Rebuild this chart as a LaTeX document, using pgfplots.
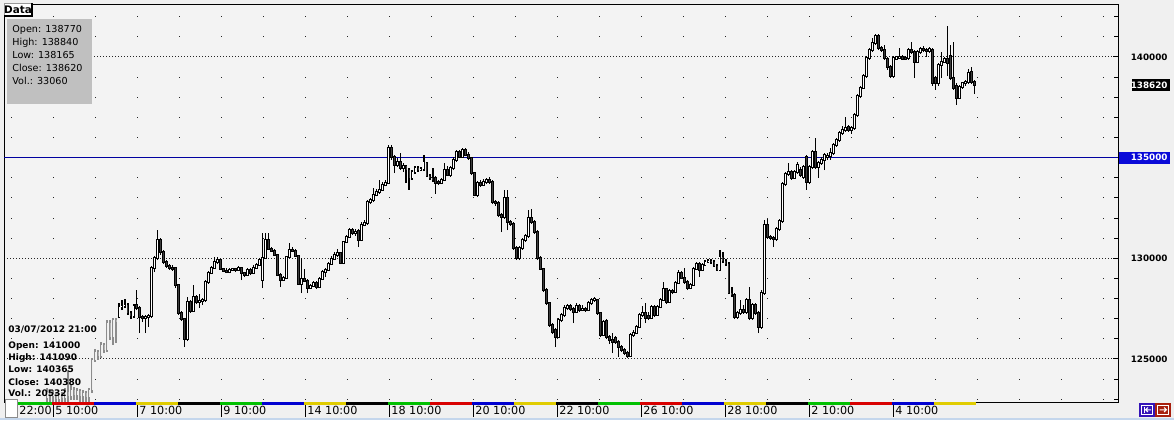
\documentclass[border=0pt]{standalone}
\usepackage{fontspec}
\setmainfont{DejaVu Sans}
\usepackage{pgfplots}
\pgfplotsset{compat=1.18}
\usepackage{pgfplotstable}

\definecolor{bgc}{HTML}{F0F0F0}
\definecolor{plotc}{HTML}{F3F3F3}
\definecolor{gbox}{HTML}{C0C0C0}
\definecolor{lineblue}{HTML}{0000A0}
\definecolor{boxblue}{HTML}{0A0AD8}
\definecolor{downc}{HTML}{3C3C3C}
\definecolor{ghostc}{HTML}{8C8C8C}
\definecolor{ghostup}{HTML}{EEEEEE}
\definecolor{ghostdn}{HTML}{B4B4B4}
\definecolor{dg}{HTML}{00C000}
\definecolor{dr}{HTML}{D80000}
\definecolor{db}{HTML}{0000D0}
\definecolor{dy}{HTML}{E0CC00}
\definecolor{dk}{HTML}{000000}
\definecolor{lbl}{HTML}{C4D6EC}
\definecolor{btnb}{HTML}{3414B8}
\definecolor{btnr}{HTML}{A8200E}

\newcommand\lab{\fontsize{5.6}{6.5}\selectfont}
\newcommand\blab{\fontsize{4.4}{5}\selectfont\bfseries}
\newcommand\ibox{\fontsize{4.8}{5.5}\selectfont}
\newcommand\ibold{\fontsize{4.5}{5.5}\selectfont\bfseries}
\newcommand\tabf{\fontsize{5.2}{6}\selectfont\bfseries}

% open high low close, one row per bar
\pgfplotstableread{
o h l c
127085 127780 127035 127580
127580 127930 127430 127630
127630 127980 127530 127680
127680 127780 127185 127285
127285 127380 126985 127135
127135 127730 127035 127630
127680 128425 127430 127530
127530 127630 126290 127085
127085 127185 126835 127035
127035 127185 126290 127085
127085 127235 126590 127135
127135 129620 127035 129520
129520 130115 129320 130015
130015 131405 129915 130910
130910 131010 130165 130315
130315 130415 129715 129815
129815 129915 129520 129620
129620 129715 129420 129520
129520 129670 129370 129470
129520 129570 128525 128675
128675 128725 127185 127285
127285 127380 126885 126985
126985 127035 125595 125990
125990 128080 125890 127830
127830 127930 127285 127380
127380 128675 127335 128080
128080 128180 127730 127830
127830 128225 127530 127880
127880 128030 127680 127930
127930 128920 127830 128825
128825 129370 128725 129270
129270 129620 129220 129520
129520 130065 129470 129815
129815 130065 129715 129915
129915 129965 129420 129470
129470 129520 129320 129370
129370 129520 129270 129320
129320 129520 129270 129420
129420 129520 129370 129470
129470 129520 129320 129420
129420 129620 129370 129520
129520 129570 128920 129270
129270 129320 129070 129170
129170 129520 129120 129420
129420 129520 129170 129270
129270 129670 129220 129520
129520 129765 129470 129670
129670 130015 129620 129915
128920 131255 128525 130015
130015 131255 129965 130910
130910 131255 130415 130465
130465 130560 130315 130365
130365 130465 130115 130165
130165 130215 129120 129170
129170 129270 128575 128920
128920 129120 128870 129020
129020 130115 128970 130065
130065 130760 130015 130415
130415 130560 130315 130365
130365 130465 130065 130115
130115 130165 128675 128725
128725 130015 128275 128970
128970 129470 128825 128870
128870 128970 128275 128525
128525 128725 128475 128625
128625 128870 128575 128775
128775 128870 128475 128575
128575 129070 128525 128970
128970 129420 128920 129320
129320 129520 129070 129420
129420 129815 129370 129715
129715 130115 129670 129965
129965 130315 129915 130165
130165 130465 130065 130265
130265 130315 129715 129765
129765 130860 129715 130810
130810 131160 130760 131060
131060 131505 131010 131405
131405 131505 131160 131255
131255 131455 131110 131305
131355 131455 130560 130910
130910 131805 130860 131655
131655 131905 131605 131755
131755 132895 131655 132795
132795 132995 132695 132895
132895 133490 132795 133145
133145 133445 133095 133295
133295 133890 133195 133395
133395 133790 133345 133640
133640 133890 133590 133740
133740 135630 133690 135480
135480 135630 134885 135030
135030 135130 134235 134635
134635 134985 134535 134785
134785 135230 134385 134485
134485 134735 134285 134585
134585 134635 133740 134385
134385 134485 133395 133990
133990 134385 133890 134285
134285 134585 134185 134485
134485 134585 134285 134385
134385 134535 134335 134435
134435 135130 134335 134785
134735 134785 134040 134090
134090 134185 133890 133990
133990 134485 133790 133890
133990 134090 133195 133740
133790 133890 133640 133740
133740 133990 133690 133890
133890 134735 133840 134385
134385 134585 134090 134135
134135 134585 134040 134485
134485 135030 134385 134885
134885 135380 134785 135280
135280 135380 134985 135030
135030 135480 134985 135380
135380 135480 135080 135130
135130 135280 134885 134985
134985 135030 134135 134235
134235 134285 133095 133145
133145 133840 133045 133740
133740 133890 133540 133640
133640 133940 133590 133790
133790 133990 133690 133890
133890 134040 133690 133790
133790 133890 132695 132795
132795 132895 132600 132745
132745 132845 132050 132150
132150 132250 131305 132050
132050 133395 131955 132995
132995 133395 131405 131805
131805 131905 131605 131705
131705 131805 130415 130510
130510 130610 129915 130015
130015 130610 129915 130510
130510 131010 130415 130910
130910 131210 130810 131110
131110 132400 131010 132000
132000 132450 131705 131805
131805 131905 131210 131305
131305 131405 129915 130015
130015 130115 129420 129470
129470 129520 128325 128425
128425 128525 127680 127780
127780 127830 126590 126690
126690 126785 126240 126340
126440 126540 125595 126090
126090 127035 126040 126935
126935 127285 126835 127185
127185 127680 127085 127530
127530 127730 127430 127630
127630 127730 127380 127480
127480 127580 126785 127335
127335 127780 127285 127630
127630 127730 127335 127430
127430 127680 127380 127480
127480 127580 127335 127430
127430 127880 127380 127780
127780 128030 127680 127930
127930 128080 127830 127980
127930 127980 127185 127285
127285 127335 126090 126190
126190 126935 126140 126835
126885 126985 125990 126090
126090 126190 125745 125940
125940 126290 125295 125845
126040 126140 125745 125845
125845 125940 125100 125595
125595 125695 125345 125445
125445 125545 125200 125295
125295 125395 125050 125150
125150 126290 125100 126190
126190 126440 126090 126290
126290 126690 126240 126590
126590 127285 126540 127185
127185 127630 127085 127285
127285 127780 126785 127035
127135 127335 126935 127035
127035 127680 126985 127580
127580 127680 127085 127185
127185 127680 127135 127580
127580 128030 127530 127930
127930 128825 127880 128475
128475 128525 127730 127830
127830 128475 127780 128375
128375 128475 128225 128325
128325 128870 128275 128775
128775 129420 128725 129270
129270 129370 128970 129020
129020 129520 128725 128825
128825 128920 128425 128525
128525 128775 128475 128675
128675 129570 128625 129470
129470 129815 129420 129715
129715 129815 129070 129420
129420 129765 129370 129670
129670 129915 129620 129815
129815 129965 129765 129865
129865 129965 129715 129815
129815 129915 129570 129620
129620 129715 129370 129420
129420 130415 129370 130065
130065 130315 129765 129865
129865 129965 129620 129715
129715 129815 128225 128275
128275 128575 128080 128180
128180 128275 126985 127085
127085 127380 126985 127285
127285 127930 127185 127430
127430 127680 127235 127335
127335 128030 127235 127930
127930 128575 126935 127035
127035 127780 126935 127680
127680 127780 127185 127285
127285 127380 126290 126590
126590 128425 126490 128275
128275 131905 128180 131655
131655 131955 130960 131060
131060 131160 130910 131010
131010 131110 130560 130960
130960 131555 130860 131455
131455 131955 131355 131855
131855 133790 131755 133690
133690 134285 133590 134185
134185 134735 134090 134285
134285 134385 133890 133990
133990 134385 133940 134285
134285 134785 134185 134635
134385 134535 134040 134135
134040 134635 133940 134535
135030 135130 133395 133790
133790 134635 133690 134535
134535 135380 134435 135280
135280 135975 134435 134535
134535 134835 133990 134735
134735 135030 134635 134885
134885 135230 134385 135130
135030 135230 134885 135080
135080 135480 134885 135230
135230 135730 135130 135630
135630 135975 135530 135875
135875 136325 135775 136225
136225 136570 136125 136375
136375 137020 136275 136470
136520 136620 136275 136375
136375 136570 136175 136470
136470 137215 136375 137120
137120 138160 137020 138060
138060 138560 137960 138460
138460 139155 138410 139055
139055 140050 138955 139950
139950 140445 139850 140345
140345 140945 140245 140695
140695 141140 140595 141040
141040 141140 140345 140445
140445 140545 140245 140345
140345 140595 139850 139950
139900 140000 139355 139500
139500 139600 138955 139055
139055 140050 138955 139950
139900 140050 139850 140000
139950 140445 139900 140000
140000 140100 139850 139900
139950 140050 139850 139900
139950 140445 139850 140345
140345 140745 140145 140245
140245 140345 138955 139750
139750 140345 139700 140245
140245 140495 140145 140395
140395 140545 140245 140345
140345 140445 140000 140295
140295 140495 140195 140395
140345 140445 138560 138705
138955 139055 138360 138705
138705 139700 138560 139600
139600 140245 138955 139750
139750 140000 139700 139900
139900 141540 139055 139700
140050 140595 138855 138955
138955 140745 138360 138460
138560 138705 137615 137960
137960 138610 137910 138510
138510 138755 138410 138705
138705 138855 138560 138755
138755 139405 138655 139205
139255 139500 138655 138755
138770 138840 138165 138620
}\candles

% grey bars at the left edge
\pgfplotstableread{
o h l c
123060 123560 122865 123360
123360 123460 122865 123160
123160 123460 122865 123260
123260 123360 122865 123010
123010 123310 122865 123210
123210 123360 122865 123060
123060 123560 122865 123360
123360 124450 122865 123160
123160 123705 122960 123460
123460 123610 122960 123210
123210 123560 122960 123410
123410 123510 122865 123160
123160 123460 122865 123310
123310 123410 122865 123110
123110 123560 122865 123460
123460 125050 123310 124950
124950 125495 124850 125345
125345 125445 124950 125150
125150 125845 125050 125695
125695 125795 125295 125445
125445 126935 125345 126785
126785 126935 125940 126090
126090 127035 125695 126935
126935 127035 125795 126835
}\ghost

\def\pad{47}
\pgfplotsset{
  bar/.style={mark=none, forget plot},
  wick/.style={bar, line width=0.55pt, quiver={u=0, v=\thisrow{h}-\thisrow{l}}},
  body/.style={bar, line width=1.45pt, quiver={u=0, v=abs(\thisrow{c}-\thisrow{o})+2*\pad}},
  upin/.style={bar, line width=0.5pt, quiver={u=0, v=\thisrow{c}-\thisrow{o}}},
  dnin/.style={bar, line width=0.5pt, quiver={u=0, v=\thisrow{o}-\thisrow{c}}},
}

\begin{document}
\begin{tikzpicture}
\begin{scope}[x=0.5pt,y=-0.5pt,shift={(-2pt,201pt)}]
  \fill[bgc] (0,0) rectangle (1174,420);
  \fill[plotc] (4,4) rectangle (1118,402);
\end{scope}

\begin{axis}[
  at={(0pt,0pt)}, anchor=south west,
  scale only axis, width=557pt, height=199pt,
  xmin=4, xmax=1118, ymin=122863, ymax=142631,
  axis line style={black, line width=0.5pt},
  xtick={17,53,137,221,305,389,473,557,641,725,809,893},
  xticklabels={22:00,5 10:00,7 10:00,9 10:00,14 10:00,18 10:00,20 10:00,22 10:00,26 10:00,28 10:00,2 10:00,4 10:00},
  xtick pos=left, xticklabel pos=left,
  xtick style={draw=none},
  xticklabel style={font=\lab, anchor=west, inner sep=0pt, xshift=1pt, yshift=-4pt},
  ytick={125000,130000,140000},
  yticklabels={125000,130000,140000},
  minor ytick={123000,124000,126000,127000,128000,129000,131000,132000,133000,134000,135000,136000,137000,138000,139000,141000,142000},
  ytick pos=right, yticklabel pos=right,
  tick align=inside,
  major tick length=2.5pt, minor tick length=2pt,
  ytick style={black, line width=0.5pt},
  minor tick style={black, line width=0.5pt},
  yticklabel style={font=\blab, anchor=east, inner sep=0pt, xshift=25pt},
  ymajorgrids, yminorgrids,
  major grid style={draw=black!85, line width=0.5pt, dash pattern=on 0.5pt off 1pt},
  minor grid style={draw=black!85, line width=0.5pt, dash pattern=on 0.5pt off 20.5pt, dash phase=17.5pt},
]
  % level line
  \addplot[lineblue, line width=0.5pt, forget plot] coordinates {(4,135000) (1118,135000)};

  % grey bars
  \addplot[wick, ghostc] table[x expr={47+3*\coordindex}, y=l] {\ghost};
  \addplot[body, ghostc] table[x expr={47+3*\coordindex}, y expr={min(\thisrow{o},\thisrow{c})-\pad}] {\ghost};
  \addplot[upin, ghostup] table[x expr={47+3*\coordindex}, y expr={\thisrow{c}>\thisrow{o} ? \thisrow{o} : nan}] {\ghost};
  \addplot[dnin, ghostdn] table[x expr={47+3*\coordindex}, y expr={\thisrow{c}<\thisrow{o} ? \thisrow{c} : nan}] {\ghost};

  % main bars
  \addplot[wick, black] table[x expr={119+2.99*\coordindex}, y=l] {\candles};
  \addplot[body, black] table[x expr={119+2.99*\coordindex}, y expr={min(\thisrow{o},\thisrow{c})-\pad}] {\candles};
  \addplot[upin, white] table[x expr={119+2.99*\coordindex}, y expr={\thisrow{c}>\thisrow{o} ? \thisrow{o} : nan}] {\candles};
  \addplot[dnin, downc] table[x expr={119+2.99*\coordindex}, y expr={\thisrow{c}<\thisrow{o} ? \thisrow{c} : nan}] {\candles};
\end{axis}

\begin{scope}[x=0.5pt,y=-0.5pt,shift={(-2pt,201pt)}]
  % day bars under the plot
  \foreach \a/\b/\cc in {18/52/dg,52/94/dr,94/136/db,136/178/dy,178/220/dk,220/262/dg,262/304/db,304/346/dy,346/388/dk,388/430/dg,430/472/dr,472/514/db,514/556/dy,556/598/dk,598/640/dg,640/682/dr,682/724/db,724/766/dy,766/808/dk,808/850/dg,850/892/dr,892/934/db,934/976/dy}
    \fill[\cc] (\a,401.5) rectangle (\b,404.5);
  \foreach \x in {53,137,221,305,389,473,557,641,725,809,893}
    \draw[black, line width=0.5pt] (\x,404.5) -- (\x,417);
  \filldraw[fill=white, draw=black!45, line width=0.5pt] (5,399) rectangle (17,417);
  \fill[lbl] (0,418) rectangle (1174,420);

  % info box
  \fill[gbox] (7,19) rectangle (92,104);
  \foreach \t/\yy in {Open: 138770/29.3, High: 138840/42.5, Low: 138165/55.5, Close: 138620/68.3, Vol.: 33060/81}
    \node[anchor=base west, inner sep=0pt, font=\ibox] at (12,\yy+3.4) {\t};

  % tab
  \fill[white] (4,3) rectangle (32,15);
  \draw[black!40, line width=0.5pt] (4.5,15) -- (4.5,3.5) -- (32,3.5);
  \draw[black, line width=1pt] (32,3) -- (32,15.5) -- (4,15.5);
  \node[inner sep=0pt, font=\tabf] at (18,9.5) {Data};

  % bar details
  \node[anchor=base west, inner sep=0pt, font=\ibold] at (8,329+3.3) {03/07/2012 21:00};
  \foreach \t/\yy in {Open: 141000/345, High: 141090/357.3, Low: 140365/369.5, Close: 140380/381.7, Vol.: 20532/393.5}
    \node[anchor=base west, inner sep=0pt, font=\ibold] at (8,\yy+3.3) {\t};

  % price tags
  \fill[black] (1132,79) rectangle (1170,90.5);
  \node[anchor=east, inner sep=0pt, text=white, font=\blab] at (1168,84.8) {138620};
  \fill[boxblue] (1119,152) rectangle (1170,163.5);
  \node[anchor=east, inner sep=0pt, text=white, font=\blab] at (1168,157.7) {135000};

  % scroll buttons
  \fill[btnb] (1139,402.5) rectangle (1155,417);
  \fill[btnr] (1155,402.5) rectangle (1171,417);
  \draw[white, line width=0.5pt] (1141.5,405) rectangle (1152.5,414.5);
  \draw[white, line width=0.5pt] (1157.5,405) rectangle (1168.5,414.5);
  \draw[white, line width=0.5pt] (1144,407) -- (1144,412.5);
  \draw[white, line width=0.5pt] (1151,409.75) -- (1145.5,409.75) (1148,407.5) -- (1145.5,409.75) -- (1148,412);
  \draw[white, line width=0.5pt] (1159.5,409.75) -- (1166.5,409.75) (1164,407.5) -- (1166.5,409.75) -- (1164,412);

  \pgfresetboundingbox
  \useasboundingbox (0,0) rectangle (1174,420);
\end{scope}
\end{tikzpicture}
\end{document}
